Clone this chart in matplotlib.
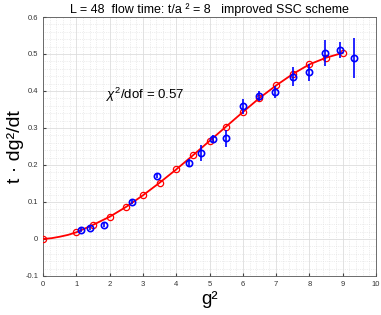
import matplotlib
matplotlib.use('Agg')
import matplotlib.pyplot as plt
from matplotlib.ticker import MultipleLocator

plt.rcParams['font.family'] = ['Liberation Sans', 'DejaVu Sans']
plt.rcParams['mathtext.fontset'] = 'custom'
plt.rcParams['mathtext.rm'] = 'Liberation Sans'
plt.rcParams['mathtext.it'] = 'Liberation Sans:italic'

# fit curve (red line)
curve_g2 = [0, 0.25, 0.5, 0.75, 1.0, 1.5, 2.0, 2.5, 3.0, 3.5, 4.0, 4.5, 5.0, 5.5,
            6.0, 6.5, 7.0, 7.5, 8.0, 8.5, 9.0]
curve_val = [0.0, 0.002, 0.006, 0.011, 0.018, 0.038, 0.060, 0.087, 0.118, 0.152,
             0.188, 0.226, 0.265, 0.304, 0.343, 0.381, 0.415, 0.446, 0.472, 0.490, 0.503]

# fit samples (red circles)
fit_g2 = [0, 1.0, 1.5, 2.0, 2.5, 3.0, 3.5, 4.0, 4.5, 5.0, 5.5, 6.0, 6.5, 7.0, 7.5, 8.0, 8.5, 9.0]
fit_val = [0.0, 0.018, 0.038, 0.060, 0.087, 0.118, 0.152, 0.188, 0.226, 0.265, 0.304,
           0.343, 0.381, 0.415, 0.446, 0.472, 0.490, 0.503]

# measured data (blue)
data_g2 = [1.14, 1.41, 1.84, 2.66, 3.43, 4.39, 4.73, 5.11, 5.49, 6.0, 6.49, 6.97,
           7.5, 7.98, 8.47, 8.92, 9.34]
data_val = [0.024, 0.029, 0.038, 0.100, 0.171, 0.206, 0.232, 0.271, 0.272, 0.359,
            0.386, 0.397, 0.439, 0.450, 0.502, 0.511, 0.489]
data_err = [0.005, 0.005, 0.005, 0.006, 0.007, 0.009, 0.021, 0.010, 0.023, 0.020,
            0.0135, 0.017, 0.025, 0.022, 0.035, 0.021, 0.055]

fig = plt.figure(figsize=(3.81, 3.15), dpi=100)
ax = fig.add_axes([0.113, 0.124, 0.874, 0.822])

ax.plot(curve_g2, curve_val, '-', color='red', linewidth=1.3, zorder=3)
ax.plot(fit_g2, fit_val, 'o', color='red', markerfacecolor='none',
        markersize=4.5, markeredgewidth=0.9, zorder=4)
ax.errorbar(data_g2, data_val, yerr=data_err, fmt='o', color='blue',
            markerfacecolor='none', markersize=4.5, markeredgewidth=1.2,
            elinewidth=1.2, capsize=0, zorder=5)

ax.text(1.88, 0.389, r'$\chi^2$/dof = 0.57', fontsize=9.5, va='center', ha='left')

ax.set_xlim(0, 10)
ax.set_ylim(-0.1, 0.6)
ax.xaxis.set_major_locator(MultipleLocator(1))
ax.xaxis.set_minor_locator(MultipleLocator(0.2))
ax.yaxis.set_major_locator(MultipleLocator(0.1))
ax.yaxis.set_minor_locator(MultipleLocator(0.02))
ax.yaxis.set_major_formatter(plt.FuncFormatter(lambda v, p: '0' if abs(v) < 1e-9 else f'{v:.1f}'))

ax.grid(True, which='major', color='#dddddd', linewidth=0.6)
ax.grid(True, which='minor', color='#dddddd', linewidth=0.5, linestyle=':')
ax.set_axisbelow(True)
ax.tick_params(which='both', direction='in', top=False, right=False, labelsize=5.5,
               labelcolor='#333333', color='#444444', length=2.5)
ax.tick_params(which='minor', length=0)
for s in ax.spines.values():
    s.set_color('#555555')
    s.set_linewidth(0.6)

ax.set_title('L = 48  flow time: t/a \u00b2 = 8   improved SSC scheme', fontsize=9, pad=3)
ax.set_xlabel('g\u00b2', fontsize=13.5, labelpad=2)
ax.set_ylabel('t \u00b7 dg\u00b2/dt', fontsize=14)
ax.yaxis.set_label_coords(-0.057, 0.5)

fig.savefig('out.png', dpi=100)
